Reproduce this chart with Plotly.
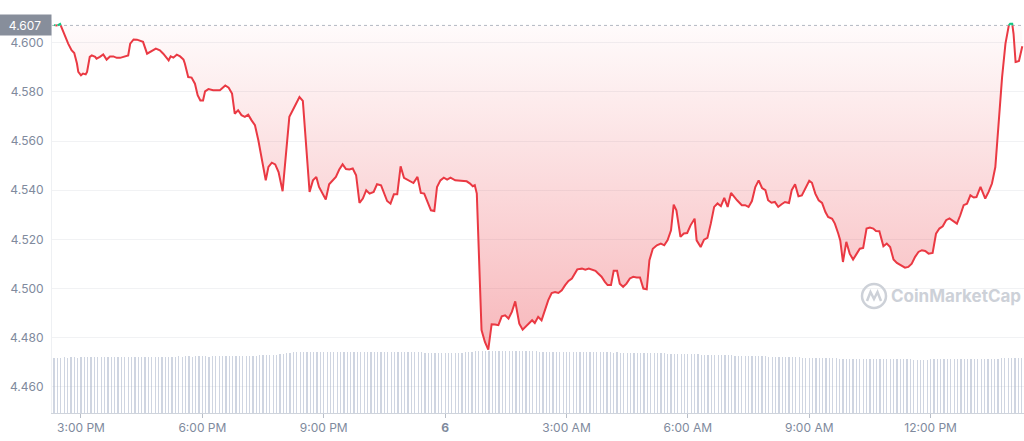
import numpy as np
import pandas as pd
import plotly.graph_objects as go

# ---------------- data ----------------
START = pd.Timestamp("2022-05-05 14:20")
OPEN_PRICE = 4.607

# minutes after START
price_minutes = [
    0, 4, 9, 13, 16, 21, 26, 30, 34, 36,
    40, 43, 47, 49, 53, 56, 61, 63, 68, 73,
    78, 83, 88, 93, 98, 103, 110, 113, 118, 123,
    128, 132, 138, 145, 151, 157, 162, 170, 173, 177,
    182, 187, 192, 194, 199, 204, 209, 213, 217, 221,
    224, 229, 236, 241, 246, 254, 259, 264, 268, 273,
    278, 283, 288, 293, 298, 303, 308, 314, 318, 323,
    328, 333, 339, 344, 349, 354, 359, 364, 369, 374,
    379, 384, 389, 393, 398, 403, 408, 413, 418, 423,
    428, 433, 438, 443, 448, 453, 458, 463, 468, 474,
    479, 485, 489, 494, 499, 504, 509, 514, 519, 525,
    533, 539, 544, 549, 554, 559, 564, 568, 573, 578,
    583, 588, 595, 602, 612, 617, 621, 624, 627, 634,
    639, 644, 649, 654, 659, 664, 669, 674, 679, 684,
    690, 695, 700, 705, 709, 713, 718, 723, 728, 733,
    738, 743, 748, 753, 758, 763, 768, 773, 776, 783,
    788, 793, 798, 803, 807, 812, 817, 821, 826, 830,
    835, 839, 844, 849, 854, 859, 864, 869, 874, 879,
    883, 888, 894, 900, 905, 910, 915, 919, 923, 929,
    934, 939, 944, 950, 953, 959, 964, 969, 974, 979,
    984, 989, 994, 999, 1004, 1008, 1013, 1020, 1025, 1030,
    1035, 1040, 1045, 1050, 1055, 1059, 1064, 1069, 1074, 1079,
    1084, 1090, 1094, 1099, 1104, 1109, 1114, 1120, 1124, 1129,
    1134, 1139, 1144, 1148, 1154, 1158, 1163, 1166, 1170, 1175,
    1180, 1185, 1190, 1195, 1200, 1205, 1210, 1215, 1219, 1224,
    1230, 1235, 1240, 1245, 1250, 1257, 1262, 1267, 1272, 1277,
    1282, 1287, 1292, 1297, 1303, 1308, 1313, 1318, 1323, 1328,
    1333, 1339, 1344, 1349, 1354, 1359, 1364, 1368, 1374, 1379,
    1381, 1386, 1391, 1396, 1401, 1406, 1411, 1416, 1418, 1421,
    1423, 1426, 1431, 1436,
]

price_values = [
    4.6072, 4.6068, 4.6076, 4.6050, 4.6023, 4.5996, 4.5969, 4.5958, 4.5915, 4.5881,
    4.5867, 4.5874, 4.5871, 4.5881, 4.5942, 4.5948, 4.5942, 4.5935, 4.5942, 4.5952,
    4.5931, 4.5944, 4.5944, 4.5938, 4.5938, 4.5942, 4.5948, 4.5996, 4.6013, 4.6012,
    4.6007, 4.6003, 4.5955, 4.5966, 4.5976, 4.5969, 4.5955, 4.5928, 4.5944, 4.5939,
    4.5951, 4.5944, 4.5931, 4.5915, 4.5860, 4.5858, 4.5833, 4.5786, 4.5765, 4.5765,
    4.5802, 4.5811, 4.5806, 4.5806, 4.5806, 4.5826, 4.5817, 4.5793, 4.5711, 4.5725,
    4.5705, 4.5698, 4.5707, 4.5684, 4.5664, 4.5603, 4.5535, 4.5440, 4.5495, 4.5512,
    4.5505, 4.5474, 4.5396, 4.5549, 4.5698, 4.5725, 4.5755, 4.5779, 4.5763, 4.5562,
    4.5393, 4.5440, 4.5454, 4.5413, 4.5389, 4.5362, 4.5424, 4.5438, 4.5454, 4.5484,
    4.5505, 4.5486, 4.5484, 4.5488, 4.5461, 4.5348, 4.5366, 4.5400, 4.5386, 4.5393,
    4.5424, 4.5420, 4.5393, 4.5356, 4.5345, 4.5383, 4.5383, 4.5497, 4.5450, 4.5440,
    4.5429, 4.5454, 4.5389, 4.5386, 4.5352, 4.5318, 4.5315, 4.5413, 4.5440, 4.5451,
    4.5443, 4.5451, 4.5440, 4.5438, 4.5436, 4.5427, 4.5416, 4.5420, 4.5386, 4.4831,
    4.4783, 4.4752, 4.4855, 4.4854, 4.4851, 4.4887, 4.4891, 4.4878, 4.4905, 4.4948,
    4.4857, 4.4833, 4.4847, 4.4857, 4.4871, 4.4860, 4.4885, 4.4871, 4.4912, 4.4953,
    4.4982, 4.4986, 4.4982, 4.4993, 4.5014, 4.5031, 4.5041, 4.5061, 4.5078, 4.5081,
    4.5077, 4.5081, 4.5075, 4.5072, 4.5061, 4.5048, 4.5027, 4.5014, 4.5014, 4.5072,
    4.5072, 4.5020, 4.5007, 4.5020, 4.5041, 4.5048, 4.5045, 4.5045, 4.5000, 4.4997,
    4.5115, 4.5162, 4.5176, 4.5183, 4.5176, 4.5197, 4.5237, 4.5341, 4.5318, 4.5210,
    4.5224, 4.5226, 4.5257, 4.5284, 4.5196, 4.5169, 4.5199, 4.5206, 4.5264, 4.5332,
    4.5346, 4.5335, 4.5369, 4.5332, 4.5389, 4.5375, 4.5359, 4.5339, 4.5339, 4.5332,
    4.5356, 4.5413, 4.5440, 4.5409, 4.5400, 4.5359, 4.5349, 4.5352, 4.5332, 4.5343,
    4.5352, 4.5348, 4.5400, 4.5424, 4.5375, 4.5379, 4.5406, 4.5438, 4.5430, 4.5386,
    4.5359, 4.5348, 4.5311, 4.5291, 4.5284, 4.5264, 4.5224, 4.5196, 4.5108, 4.5190,
    4.5142, 4.5118, 4.5140, 4.5162, 4.5165, 4.5244, 4.5248, 4.5244, 4.5234, 4.5233,
    4.5172, 4.5183, 4.5169, 4.5118, 4.5104, 4.5091, 4.5085, 4.5088, 4.5101, 4.5129,
    4.5149, 4.5156, 4.5153, 4.5142, 4.5145, 4.5223, 4.5244, 4.5253, 4.5278, 4.5285,
    4.5275, 4.5264, 4.5298, 4.5339, 4.5345, 4.5379, 4.5370, 4.5372, 4.5413, 4.5375,
    4.5366, 4.5393, 4.5427, 4.5494, 4.5684, 4.5860, 4.5996, 4.6070, 4.6077, 4.6077,
    4.6036, 4.5921, 4.5925, 4.5985,
]

# 5-minute volume bars (arbitrary units, millions)
volume_values = [
    281, 282, 282, 283, 282, 283, 283, 282, 283, 284, 283, 283,
    284, 283, 284, 284, 285, 284, 284, 285, 284, 285, 285, 284,
    285, 285, 286, 285, 286, 286, 285, 286, 287, 286, 287, 287,
    287, 288, 287, 288, 288, 287, 288, 289, 288, 288, 287, 288,
    288, 289, 288, 289, 290, 289, 290, 291, 290, 291, 292, 291,
    292, 293, 293, 294, 295, 296, 297, 298, 300, 303, 306, 308,
    309, 310, 310, 311, 310, 311, 311, 312, 311, 312, 312, 311,
    312, 312, 313, 312, 313, 312, 313, 313, 312, 313, 312, 312,
    311, 312, 311, 311, 310, 311, 310, 310, 309, 310, 309, 309,
    308, 308, 307, 307, 306, 305, 305, 304, 304, 303, 303, 304,
    305, 307, 309, 311, 313, 314, 315, 315, 316, 316, 315, 316,
    316, 315, 316, 316, 315, 316, 315, 315, 314, 315, 314, 314,
    313, 313, 312, 313, 312, 312, 311, 312, 311, 311, 310, 311,
    310, 310, 309, 310, 309, 309, 308, 309, 308, 308, 307, 308,
    307, 307, 306, 306, 306, 305, 305, 305, 304, 304, 304, 303,
    303, 303, 302, 302, 301, 301, 300, 300, 299, 299, 298, 298,
    297, 297, 296, 296, 295, 295, 294, 294, 293, 293, 292, 292,
    291, 291, 290, 290, 289, 289, 288, 288, 287, 287, 286, 286,
    285, 285, 284, 284, 283, 283, 282, 282, 281, 281, 280, 280,
    279, 279, 278, 278, 278, 277, 277, 277, 276, 276, 276, 276,
    275, 275, 275, 275, 274, 274, 274, 274, 274, 273, 273, 273,
    273, 273, 273, 272, 272, 272, 272, 272, 273, 273, 273, 273,
    273, 274, 274, 274, 274, 275, 275, 275, 275, 276, 276, 276,
    276, 277, 277, 277, 277, 278, 278, 278, 278, 279, 279, 279,
]
VOLUME_STEP_MIN = 5

y_ticks = [4.46, 4.48, 4.50, 4.52, 4.54, 4.56, 4.58, 4.60]
x_tick_times = ["2022-05-05 15:00", "2022-05-05 18:00", "2022-05-05 21:00",
                "2022-05-06 00:00", "2022-05-06 03:00", "2022-05-06 06:00",
                "2022-05-06 09:00", "2022-05-06 12:00"]
x_tick_labels = ["3:00 PM", "6:00 PM", "9:00 PM", "<b>6</b>", "3:00 AM",
                 "6:00 AM", "9:00 AM", "12:00 PM"]

assert len(price_minutes) == len(price_values)

# ---------------- styling ----------------
RED = "#ea3943"
GREEN = "#16c784"
LABEL = "#808a9d"
FONT = "Inter"
W, H = 1024, 441
ML, MR, MT, MB = 52, 0, 20, 28


def px2paper(px, py):
    return (px - ML) / (W - ML - MR), (H - MB - py) / (H - MT - MB)


# ---------------- build ----------------
mins = np.array(price_minutes, dtype=float)
vals = np.array(price_values, dtype=float)

# insert crossing points with the open-price line so the colour split is clean
seg_m, seg_v = [], []
for i in range(len(mins)):
    seg_m.append(mins[i])
    seg_v.append(vals[i])
    if i < len(mins) - 1:
        a, b = vals[i] - OPEN_PRICE, vals[i + 1] - OPEN_PRICE
        if a * b < 0:
            t = a / (a - b)
            seg_m.append(mins[i] + t * (mins[i + 1] - mins[i]))
            seg_v.append(OPEN_PRICE)
seg_m = np.array(seg_m)
seg_v = np.array(seg_v)
seg_t = START + pd.to_timedelta(seg_m, unit="m")
red_v = [v if v <= OPEN_PRICE + 1e-9 else None for v in seg_v]
green_v = [v if v >= OPEN_PRICE - 1e-9 else None for v in seg_v]

vol_times = START + pd.to_timedelta(np.arange(len(volume_values)) * VOLUME_STEP_MIN, unit="m")

fig = go.Figure()

# baseline (open price) for the fill
fig.add_trace(go.Scatter(x=seg_t, y=[OPEN_PRICE] * len(seg_t), mode="lines",
                         line=dict(width=0, color="rgba(0,0,0,0)"),
                         hoverinfo="skip", showlegend=False))
# gradient fill between open price and price line
fig.add_trace(go.Scatter(x=seg_t, y=seg_v, mode="lines", fill="tonexty",
                         line=dict(width=0, color="rgba(0,0,0,0)"),
                         fillgradient=dict(type="vertical",
                                           colorscale=[[0, "rgba(234,57,67,0.36)"],
                                                       [1, "rgba(234,57,67,0.02)"]],
                                           start=4.475, stop=OPEN_PRICE),
                         hoverinfo="skip", showlegend=False))
fig.add_trace(go.Scatter(x=seg_t, y=red_v, mode="lines",
                         line=dict(color=RED, width=2), connectgaps=False,
                         showlegend=False))
fig.add_trace(go.Scatter(x=seg_t, y=green_v, mode="lines",
                         line=dict(color=GREEN, width=2), connectgaps=False,
                         showlegend=False))

# volume bars on an overlaid hidden axis
fig.add_trace(go.Bar(x=vol_times, y=volume_values, yaxis="y2",
                     marker=dict(color="rgba(160,172,195,0.5)", line=dict(width=0)),
                     width=110000, showlegend=False, hoverinfo="skip"))

x0 = START - pd.Timedelta(minutes=3)
x1 = START + pd.Timedelta(minutes=1438.5)

fig.update_layout(
    width=W, height=H,
    margin=dict(l=ML, r=MR, t=MT, b=MB, pad=0),
    paper_bgcolor="white", plot_bgcolor="white",
    font=dict(family=FONT, size=12, color=LABEL),
    showlegend=False,
    xaxis=dict(type="date", range=[x0, x1], tickvals=pd.to_datetime(x_tick_times),
               ticktext=x_tick_labels, showgrid=False, zeroline=False,
               showline=True, linecolor="#cfd4dc", linewidth=1,
               ticks="outside", ticklen=4, tickcolor="#b8bec8",
               tickfont=dict(family=FONT, size=12, color=LABEL)),
    yaxis=dict(range=[4.4494, 4.6092], tickvals=y_ticks, tickformat=".3f",
               showgrid=True, gridcolor="#f1f2f4", gridwidth=1, zeroline=False,
               showline=True, linecolor="#eef0f3", ticks="",
               ticklabelstandoff=5,
               tickfont=dict(family=FONT, size=12, color=LABEL)),
    yaxis2=dict(overlaying="y", range=[0, 2000], visible=False, showgrid=False),
    bargap=0,
)

# dotted open-price reference line
fig.add_shape(type="line", xref="paper", x0=0, x1=1, yref="y",
              y0=OPEN_PRICE, y1=OPEN_PRICE,
              line=dict(color="#b3b9c3", width=1, dash="dot"), layer="below")

# open-price label
fig.add_annotation(xref="paper", x=0, xanchor="right", yref="y", y=OPEN_PRICE,
                   yanchor="middle", text="4.607", showarrow=False,
                   bgcolor="#878e9b", font=dict(family=FONT, size=12, color="white"),
                   width=48, height=16, borderpad=2, align="center")

# watermark
wx, wy = px2paper(956, 296)
fig.add_annotation(xref="paper", yref="paper", x=wx, y=wy, text="<b>CoinMarketCap</b>",
                   showarrow=False, xanchor="center", yanchor="middle",
                   font=dict(family=FONT, size=17, color="#cdd1d8"))
cx0, cy0 = px2paper(862, 308)
cx1, cy1 = px2paper(886, 284)
fig.add_shape(type="circle", xref="paper", yref="paper", x0=cx0, y0=cy0, x1=cx1, y1=cy1,
              line=dict(color="#cdd1d8", width=2.5))
pts = [px2paper(867, 301), px2paper(870.5, 292), px2paper(874, 299),
       px2paper(877.5, 292), px2paper(881, 301)]
path = "M " + " L ".join(f"{x:.5f},{y:.5f}" for x, y in pts)
fig.add_shape(type="path", xref="paper", yref="paper", path=path,
              line=dict(color="#cdd1d8", width=2.5))

fig.write_html("out.html", config={"displayModeBar": False},
               post_script="document.body.style.margin='0';document.body.style.overflow='hidden';")
